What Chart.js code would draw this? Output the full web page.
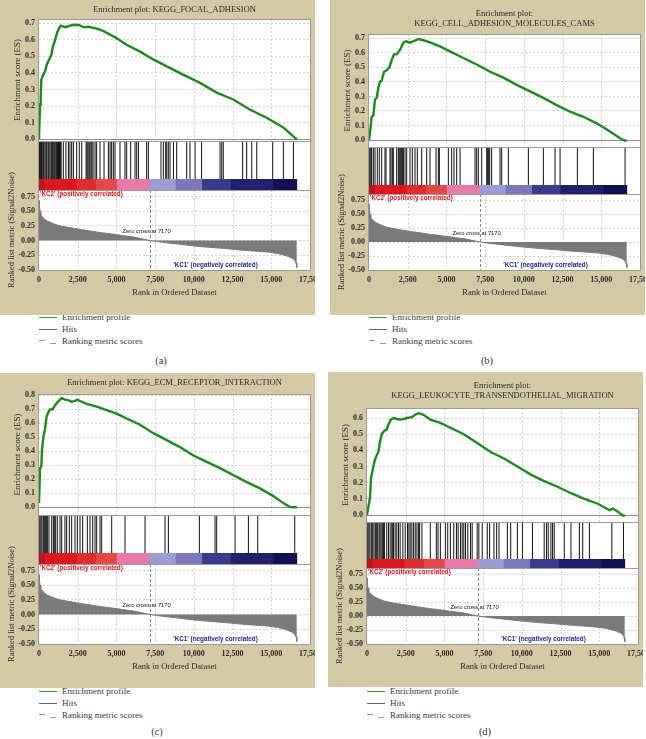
<!DOCTYPE html>
<html>
<head>
<meta charset="utf-8">
<title>GSEA enrichment plots</title>
<script src="https://cdn.jsdelivr.net/npm/chart.js@4.4.1/dist/chart.umd.min.js"></script>
<style>
  body { margin: 0; width: 646px; height: 739px; background: #fff; position: relative; overflow: hidden;
         font-family: 'Liberation Serif', 'DejaVu Serif', serif; }
  canvas { position: absolute; background: #d3caa5; z-index: 2; }
  .legend { position: absolute; font-size: 9px; color: #3a3a3a; z-index: 1; }
  .legend div { height: 12px; line-height: 12px; white-space: nowrap; position: relative; padding-left: 23px; }
  .legend i { position: absolute; left: 0; top: 6px; width: 18px; height: 0; }
  .sub { position: absolute; font-size: 10.5px; color: #333; transform: translateX(-50%); }
</style>
</head>
<body>
<script>
// shared ranked list (same for every gene set)
const xTicks = [0, 2500, 5000, 7500, 10000, 12500, 15000, 17500];
const rankTicks = [-0.5, -0.25, 0, 0.25, 0.5, 0.75];
const zeroCross = 7170;

const metricRank = [0, 30, 65, 120, 172, 260, 387, 560, 818, 1100, 1463, 1900, 2325, 2800, 3400, 4000, 4690, 5400, 6200, 7170,
    8000, 9000, 10000, 11000, 12000, 13000, 14000, 14800, 15400, 15800, 16100, 16350, 16500, 16600, 16650];
const metricScore = [0.68, 0.58, 0.50, 0.45, 0.42, 0.39, 0.36, 0.33, 0.30, 0.27, 0.245, 0.225, 0.205, 0.185, 0.16, 0.135, 0.113, 0.085, 0.057, 0.0,
    -0.03, -0.06, -0.09, -0.115, -0.135, -0.16, -0.18, -0.195, -0.22, -0.245, -0.27, -0.30, -0.33, -0.38, -0.46];

// heat map bar under the hits
const heatStart = [0, 400, 2450, 3700, 5050, 7150, 8850, 10550, 12400, 15150];
const heatEnd = [400, 2450, 3700, 5050, 7150, 8850, 10550, 12400, 15150, 16650];
const heatColours = ['#c4121c', '#e0161e', '#e22c2e', '#e64848', '#e97aa8', '#9c9cd4', '#7d78bd', '#383c8e', '#221f6e', '#130f53'];

// (a) KEGG_FOCAL_ADHESION
const focalTitle = ['Enrichment plot: KEGG_FOCAL_ADHESION'];
const focalTicks = [0, 0.1, 0.2, 0.3, 0.4, 0.5, 0.6, 0.7];
const focalRank = [0, 65, 110, 150, 280, 390, 500, 650, 800, 900, 1000, 1100, 1200, 1300, 1400, 1700, 2000, 2300, 2600, 2900,
    3200, 3500, 3800, 4200, 4600, 5000, 5650, 6500, 7400, 8250, 9300, 10400, 11500, 12550, 13600, 14700, 15800, 16400, 16650];
const focalES = [0, 0.21, 0.25, 0.36, 0.39, 0.41, 0.45, 0.48, 0.51, 0.56, 0.585, 0.62, 0.65, 0.67, 0.685, 0.676, 0.685, 0.69, 0.688, 0.675,
    0.678, 0.672, 0.665, 0.65, 0.63, 0.61, 0.57, 0.53, 0.48, 0.44, 0.39, 0.34, 0.28, 0.24, 0.18, 0.13, 0.07, 0.02, 0];
const focalHits = [20, 60, 110, 160, 210, 280, 330, 400, 470, 520, 600, 650, 720, 800, 860, 920, 980, 1030, 1090, 1140, 1200, 1260,
    1320, 1380, 1430, 1570, 1740, 1900, 2000, 2110, 2220, 2430, 2600, 2760, 3040, 3100, 3160, 3230, 3290, 3360, 3420, 3490, 3620,
    3720, 3940, 4200, 4480, 4590, 4690, 4800, 4910, 5230, 5550, 5660, 5920, 6200, 6310, 6420, 6950, 7060, 7880, 8030, 8180, 8250,
    8350, 8460, 8680, 8890, 9540, 9750, 10080, 10500, 11690, 11800, 11900, 13150, 13410, 13740, 14060, 15090, 15780, 16430];

// (b) KEGG_CELL_ADHESION_MOLECULES_CAMS
const cellTitle = ['Enrichment plot:', 'KEGG_CELL_ADHESION_MOLECULES_CAMS'];
const cellTicks = [0, 0.1, 0.2, 0.3, 0.4, 0.5, 0.6, 0.7];
const cellRank = [0, 108, 172, 280, 388, 495, 603, 710, 818, 969, 1141, 1313, 1464, 1615, 1787, 2002, 2218, 2390, 2648, 2863,
    3186, 3509, 3940, 4586, 5232, 6093, 6954, 7815, 8677, 9538, 10399, 11260, 12121, 12983, 13844, 14705, 15566, 16212, 16535, 16650];
const cellES = [0, 0.09, 0.16, 0.17, 0.28, 0.29, 0.36, 0.40, 0.41, 0.47, 0.48, 0.50, 0.55, 0.59, 0.59, 0.62, 0.67, 0.68, 0.67, 0.68,
    0.695, 0.687, 0.673, 0.645, 0.61, 0.565, 0.52, 0.47, 0.43, 0.38, 0.335, 0.29, 0.24, 0.195, 0.16, 0.115, 0.058, 0.012, -0.005, 0];
const cellHits = [0, 60, 120, 172, 280, 388, 538, 667, 818, 1033, 1098, 1356, 1421, 1507, 1572, 1787, 1895, 1959, 2045, 2110, 2175,
    2218, 2325, 2433, 2648, 2799, 2971, 3122, 3402, 3725, 3940, 4328, 4478, 4543, 5124, 5339, 5490, 5662, 5878, 6847, 6954, 7062,
    7277, 7600, 7665, 7729, 7794, 7923, 8461, 8569, 9000, 10291, 11260, 12014, 12337, 13456, 14490, 16535];

// (c) KEGG_ECM_RECEPTOR_INTERACTION
const ecmTitle = ['Enrichment plot: KEGG_ECM_RECEPTOR_INTERACTION'];
const ecmTicks = [0, 0.1, 0.2, 0.3, 0.4, 0.5, 0.6, 0.7, 0.8];
const ecmRank = [0, 65, 150, 194, 280, 388, 495, 603, 710, 883, 1033, 1184, 1356, 1464, 1679, 1895, 2110, 2325, 2476, 2648,
    3079, 3725, 4371, 5017, 5662, 6524, 7385, 8246, 9107, 9968, 10830, 11691, 12552, 13413, 14274, 15136, 15781, 16212, 16650];
const ecmES = [0.03, 0.28, 0.29, 0.41, 0.50, 0.56, 0.65, 0.68, 0.70, 0.70, 0.73, 0.75, 0.77, 0.78, 0.77, 0.766, 0.754, 0.76, 0.77, 0.76,
    0.74, 0.72, 0.695, 0.67, 0.635, 0.59, 0.53, 0.48, 0.43, 0.37, 0.325, 0.28, 0.23, 0.18, 0.135, 0.08, 0.03, 0.002, 0];
const ecmHits = [0, 65, 130, 194, 280, 345, 410, 495, 560, 645, 818, 926, 990, 1077, 1184, 1356, 1464, 1679, 1787, 1959, 2110,
    2325, 2476, 2648, 2820, 3122, 3294, 3466, 3617, 3725, 3940, 4048, 4694, 5555, 6847, 8138, 8354, 10356, 11368, 11475, 12660,
    13521, 14124, 16514];

// (d) KEGG_LEUKOCYTE_TRANSENDOTHELIAL_MIGRATION
const leukoTitle = ['Enrichment plot:', 'KEGG_LEUKOCYTE_TRANSENDOTHELIAL_MIGRATION'];
const leukoTicks = [0, 0.1, 0.2, 0.3, 0.4, 0.5, 0.6];
const leukoRank = [0, 108, 195, 260, 368, 476, 584, 735, 844, 952, 1103, 1276, 1384, 1536, 1709, 1925, 2141, 2358, 2574, 2898,
    3115, 3331, 3655, 4088, 4737, 5386, 6251, 7116, 7981, 8847, 9712, 10577, 11442, 12307, 13172, 14038, 14903, 15660, 15876, 16200,
    16560, 16650];
const leukoES = [0, 0.06, 0.11, 0.23, 0.28, 0.33, 0.36, 0.39, 0.455, 0.50, 0.52, 0.53, 0.56, 0.59, 0.60, 0.594, 0.59, 0.594, 0.60, 0.606,
    0.62, 0.63, 0.62, 0.59, 0.57, 0.54, 0.50, 0.445, 0.39, 0.35, 0.30, 0.25, 0.21, 0.175, 0.135, 0.10, 0.07, 0.03, 0.04, 0.02,
    -0.005, 0];
const leukoHits = [0, 65, 130, 195, 300, 370, 450, 540, 625, 690, 780, 840, 910, 990, 1060, 1125, 1276, 1384, 1492, 1600, 1666,
    1709, 1817, 1925, 2033, 2141, 2314, 2466, 2617, 2704, 2790, 2898, 3007, 3115, 3223, 3331, 3396, 3547, 4088, 4477, 4586, 4737,
    5061, 5213, 5386, 5602, 5775, 5883, 6035, 6143, 6251, 6359, 6511, 6684, 6792, 7116, 7224, 7441, 7765, 7917, 8198, 8371, 8522,
    9063, 9279, 9712, 10036, 10685, 11442, 11594, 11702, 11875, 11983, 12091, 12740, 13172, 13713, 13929, 14362, 15811, 16560];

const SERIF = "'Liberation Serif', 'DejaVu Serif', serif";
const SANS = "'Liberation Sans', Arial, sans-serif";

Chart.defaults.font.family = SERIF;

// grid, frames, zero-cross marker and the phenotype labels
const gseaDecor = {
    id: 'gseaDecor',
    beforeDraw(chart) {
        const { ctx, chartArea: a } = chart;
        ctx.save();
        ctx.fillStyle = '#fff';
        ctx.fillRect(a.left, a.top, a.width, a.height);
        ctx.restore();
    },
    beforeDatasetsDraw(chart) {
        const { ctx, chartArea: a, scales: s } = chart;
        ctx.save();
        ctx.strokeStyle = '#cfcfcf';
        ctx.lineWidth = 1;
        ctx.setLineDash([2, 2]);
        for (const id of ['yES', 'yRank']) {
            xTicks.slice(1, -1).forEach(v => {
                const px = Math.round(s.x.getPixelForValue(v)) + 0.5;
                ctx.beginPath();
                ctx.moveTo(px, s[id].top);
                ctx.lineTo(px, s[id].bottom);
                ctx.stroke();
            });
        }
        ctx.setLineDash([]);
        ctx.strokeStyle = '#8c8c8c';
        const zy = Math.round(s.yES.getPixelForValue(0)) + 0.5;
        ctx.beginPath();
        ctx.moveTo(a.left, zy);
        ctx.lineTo(a.right, zy);
        ctx.stroke();
        ctx.restore();
    },
    afterDatasetsDraw(chart) {
        const { ctx, chartArea: a, scales: s } = chart;
        ctx.save();
        ctx.lineWidth = 1;
        ctx.strokeStyle = '#8a8a8a';
        ctx.setLineDash([3, 2]);
        const zx = Math.round(s.x.getPixelForValue(zeroCross)) + 0.5;
        ctx.beginPath();
        ctx.moveTo(zx, s.yRank.top);
        ctx.lineTo(zx, s.yRank.bottom);
        ctx.stroke();

        ctx.setLineDash([]);
        ctx.strokeStyle = '#9a9a9a';
        const l = Math.round(a.left) - 0.5, r = Math.round(a.right) + 0.5;
        for (const y of [s.yES.top, s.yHits.top, s.yRank.top, s.yRank.bottom]) {
            const py = Math.round(y) + 0.5;
            ctx.beginPath();
            ctx.moveTo(l, py);
            ctx.lineTo(r, py);
            ctx.stroke();
        }
        for (const x of [l, r]) {
            ctx.beginPath();
            ctx.moveTo(x, a.top);
            ctx.lineTo(x, a.bottom);
            ctx.stroke();
        }

        ctx.font = 'bold 6.3px ' + SANS;
        ctx.textAlign = 'left';
        ctx.textBaseline = 'top';
        ctx.fillStyle = '#e3141c';
        ctx.fillText("'KC2' (positively correlated)", a.left + 1, s.yRank.top + 1);
        ctx.textAlign = 'center';
        ctx.textBaseline = 'middle';
        ctx.fillStyle = '#22229a';
        ctx.fillText("'KC1' (negatively correlated)", s.x.getPixelForValue(11400), s.yRank.bottom - 5);
        ctx.font = '5.8px ' + SANS;
        ctx.fillStyle = '#111';
        ctx.fillText('Zero cross at ' + zeroCross, s.x.getPixelForValue(6950), s.yRank.getPixelForValue(0.16));
        ctx.restore();
    }
};

function hiddenAxis(extra) {
    return Object.assign({
        position: 'left',
        stack: 'gsea',
        display: true,
        ticks: { display: false },
        grid: { display: false, drawTicks: false },
        border: { display: false },
        afterFit: s => { s.width = 39; s.paddingTop = 0; s.paddingBottom = 0; }
    }, extra);
}

function gseaChart(p) {
    const canvas = document.createElement('canvas');
    canvas.width = 315;
    canvas.height = 315;
    canvas.style.left = p.left + 'px';
    canvas.style.top = p.top + 'px';
    document.body.appendChild(canvas);

    const tickFont = { family: SERIF, size: 8, weight: 'bold' };

    return new Chart(canvas, {
        type: 'line',
        data: {
            datasets: [
                {
                    type: 'line',
                    label: 'Enrichment profile',
                    data: p.rank.map((r, i) => ({ x: r, y: p.es[i] })),
                    xAxisID: 'x',
                    yAxisID: 'yES',
                    borderColor: '#1c8a1c',
                    borderWidth: 2.4,
                    pointRadius: 0,
                    tension: 0
                },
                {
                    type: 'bar',
                    label: 'Hits',
                    data: p.hits.map(h => ({ x: h, y: 1 })),
                    xAxisID: 'x',
                    yAxisID: 'yHits',
                    backgroundColor: '#111',
                    barThickness: 1,
                    inflateAmount: 0,
                    grouped: false
                },
                {
                    type: 'bar',
                    label: 'Heat',
                    indexAxis: 'y',
                    data: heatStart.map((s, i) => ({ x: [s, heatEnd[i]], y: 'heat' })),
                    xAxisID: 'x',
                    yAxisID: 'yBar',
                    backgroundColor: heatColours,
                    barPercentage: 1,
                    categoryPercentage: 1,
                    grouped: false
                },
                {
                    type: 'line',
                    label: 'Ranking metric scores',
                    data: metricRank.map((r, i) => ({ x: r, y: metricScore[i] })),
                    xAxisID: 'x',
                    yAxisID: 'yRank',
                    fill: 'origin',
                    backgroundColor: '#7a7a7a',
                    borderColor: '#7a7a7a',
                    borderWidth: 1,
                    pointRadius: 0,
                    tension: 0
                }
            ]
        },
        options: {
            responsive: false,
            animation: false,
            events: [],
            layout: { padding: { left: 0, right: 5, top: 1, bottom: p.padBottom } },
            scales: {
                x: {
                    type: 'linear',
                    min: 0,
                    max: 17500,
                    offset: false,
                    afterBuildTicks: s => { s.ticks = xTicks.map(v => ({ value: v })); },
                    afterFit: s => { s.height = 40; s.paddingLeft = 0; s.paddingRight = 0; },
                    ticks: {
                        font: tickFont, color: '#2a2a2a', padding: 5, maxRotation: 0, autoSkip: false,
                        callback: v => v.toLocaleString('en-US')
                    },
                    grid: { display: false, drawTicks: false },
                    border: { display: false },
                    title: {
                        display: true, text: 'Rank in Ordered Dataset', color: '#2a2a2a',
                        font: { family: SERIF, size: 8.5 }, padding: { top: 0, bottom: 12 }
                    }
                },
                yRank: {
                    type: 'linear',
                    position: 'left',
                    stack: 'gsea',
                    stackWeight: p.w[3],
                    weight: 1,
                    min: -0.5,
                    max: 0.86,
                    afterBuildTicks: s => { s.ticks = rankTicks.map(v => ({ value: v })); },
                    afterFit: s => { s.width = 39; s.paddingTop = 0; s.paddingBottom = 0; },
                    ticks: { font: tickFont, color: '#2a2a2a', padding: 4, autoSkip: false, callback: v => v.toFixed(2) },
                    grid: { color: '#d2d2d2', drawTicks: false },
                    border: { display: false, dash: [2, 2] },
                    title: {
                        display: true, text: 'Ranked list metric (Signal2Noise)', color: '#2a2a2a',
                        font: { family: SERIF, size: 8.5 }, padding: { top: 7, bottom: 0 }
                    }
                },
                yBar: hiddenAxis({ type: 'category', labels: ['heat'], offset: true, stackWeight: p.w[2], weight: 2 }),
                yHits: hiddenAxis({ type: 'linear', min: 0, max: 1, stackWeight: p.w[1], weight: 3 }),
                yES: {
                    type: 'linear',
                    position: 'left',
                    stack: 'gsea',
                    stackWeight: p.w[0],
                    weight: 4,
                    min: p.esMin,
                    max: p.esMax,
                    afterBuildTicks: s => { s.ticks = p.esTicks.map(v => ({ value: v })); },
                    afterFit: s => { s.width = 39; s.paddingTop = 0; s.paddingBottom = 0; },
                    ticks: { font: tickFont, color: '#2a2a2a', padding: 4, autoSkip: false, callback: v => v.toFixed(1) },
                    grid: { color: '#d2d2d2', drawTicks: false },
                    border: { display: false, dash: [2, 2] },
                    title: {
                        display: true, text: 'Enrichment score (ES)', color: '#2a2a2a',
                        font: { family: SERIF, size: 9 }, padding: { top: 12, bottom: 0 }
                    }
                }
            },
            plugins: {
                legend: { display: false },
                tooltip: { enabled: false },
                title: {
                    display: true,
                    fullSize: false,
                    text: p.title,
                    color: '#2a2a2a',
                    font: { family: SERIF, size: 8.5, weight: 'normal', lineHeight: 1.2 },
                    padding: { top: p.tTop, bottom: p.tBottom }
                }
            }
        },
        plugins: [gseaDecor]
    });
}

function addLegend(left, top) {
    const box = document.createElement('div');
    box.className = 'legend';
    box.style.left = left + 'px';
    box.style.top = top + 'px';
    box.innerHTML =
        '<div><i style="border-top:1.5px solid #3f9d3f"></i>Enrichment profile</div>' +
        '<div><i style="border-top:1.5px solid #666"></i>Hits</div>' +
        '<div><i style="width:6px;top:5px;border-top:1px solid #9a9a9a"></i>' +
        '<i style="left:11px;width:6px;top:8px;border-top:1px solid #9a9a9a"></i>Ranking metric scores</div>';
    document.body.appendChild(box);
}

function addSub(text, x, y) {
    const el = document.createElement('div');
    el.className = 'sub';
    el.style.left = x + 'px';
    el.style.top = (y - 7) + 'px';
    el.textContent = text;
    document.body.appendChild(el);
}

const panels = [
    { left: 0, top: 0, title: focalTitle, rank: focalRank, es: focalES, hits: focalHits, esTicks: focalTicks,
      esMin: -0.01, esMax: 0.725, w: [122, 38, 11, 80], tTop: 3.9, tBottom: 3.9, padBottom: 5 },
    { left: 330, top: 0, title: cellTitle, rank: cellRank, es: cellES, hits: cellHits, esTicks: cellTicks,
      esMin: -0.048, esMax: 0.73, w: [113, 38, 9, 76], tTop: 7.9, tBottom: 4.7, padBottom: 5 },
    { left: 0, top: 373, title: ecmTitle, rank: ecmRank, es: ecmES, hits: ecmHits, esTicks: ecmTicks,
      esMin: -0.055, esMax: 0.81, w: [121, 38, 11, 80], tTop: 3.9, tBottom: 5.9, padBottom: 4 },
    { left: 328, top: 372, title: leukoTitle, rank: leukoRank, es: leukoES, hits: leukoHits, esTicks: leukoTicks,
      esMin: -0.043, esMax: 0.662, w: [114, 37, 9, 76], tTop: 7.9, tBottom: 6.7, padBottom: 3 }
];

panels.forEach(p => gseaChart(p));

addLegend(39, 311);
addLegend(369, 311);
addLegend(39, 685);
addLegend(367, 685);

addSub('(a)', 161, 362);
addSub('(b)', 487, 362);
addSub('(c)', 157, 733);
addSub('(d)', 485, 733);
</script>
</body>
</html>
